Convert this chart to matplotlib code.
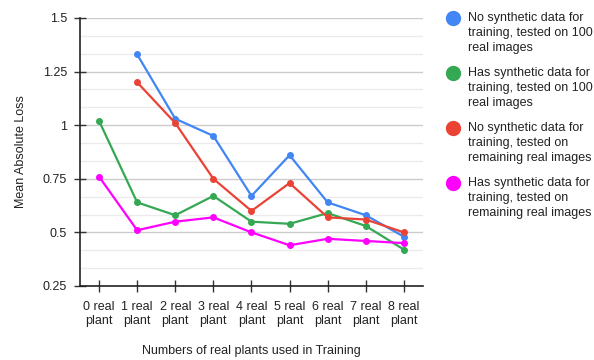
import numpy as np
import matplotlib.pyplot as plt
from matplotlib.lines import Line2D
from matplotlib.ticker import MultipleLocator

plt.rcParams['font.family'] = ['Liberation Sans', 'DejaVu Sans']

categories = ['0 real\nplant', '1 real\nplant', '2 real\nplant', '3 real\nplant', '4 real\nplant',
              '5 real\nplant', '6 real\nplant', '7 real\nplant', '8 real\nplant']

# None = no run for that number of plants
no_syn_100 = [None, 1.33, 1.03, 0.95, 0.67, 0.86, 0.64, 0.58, 0.48]
syn_100 = [1.02, 0.64, 0.58, 0.67, 0.55, 0.54, 0.59, 0.53, 0.42]
no_syn_rest = [None, 1.20, 1.01, 0.75, 0.60, 0.73, 0.57, 0.56, 0.50]
syn_rest = [0.76, 0.51, 0.55, 0.57, 0.50, 0.44, 0.47, 0.46, 0.45]

series = [
    (no_syn_100, '#4285F4', 'No synthetic data for\ntraining, tested on 100\nreal images'),
    (syn_100, '#34A853', 'Has synthetic data for\ntraining, tested on 100\nreal images'),
    (no_syn_rest, '#EA4335', 'No synthetic data for\ntraining, tested on\nremaining real images'),
    (syn_rest, '#FF00FF', 'Has synthetic data for\ntraining, tested on\nremaining real images'),
]

fs = 9
fig = plt.figure(figsize=(5.94, 3.6), dpi=100)
ax = fig.add_axes([0.1347, 0.2056, 0.5773, 0.7444])

x = np.arange(len(categories))
for vals, color, label in series:
    y = np.array([np.nan if v is None else v for v in vals])
    ax.plot(x, y, color=color, linewidth=1.6, marker='o', markersize=4, zorder=3)

ax.set_xlim(-0.5, len(categories) - 0.5)
ax.set_ylim(0.25, 1.5)
ax.set_xticks(x)
ax.set_xticklabels(categories, fontsize=fs, color='#222222', linespacing=1.25)
ax.yaxis.set_minor_locator(MultipleLocator(0.25 / 3))
ax.set_yticks([0.25, 0.5, 0.75, 1.0, 1.25, 1.5])
ax.set_yticklabels(['0.25', '0.5', '0.75', '1', '1.25', '1.5'], fontsize=fs, color='#222222')

ax.grid(True, axis='y', which='major', color='#cccccc', linewidth=1)
ax.grid(True, axis='y', which='minor', color='#ebebeb', linewidth=1)
ax.set_axisbelow(True)
ax.tick_params(axis='both', which='major', direction='inout', length=9, width=1, color='#333333', pad=6)
ax.tick_params(axis='y', which='major', pad=5)
ax.tick_params(axis='y', which='minor', length=0)
for side in ['top', 'right']:
    ax.spines[side].set_visible(False)
for side in ['left', 'bottom']:
    ax.spines[side].set_color('#222222')
    ax.spines[side].set_linewidth(1.2)

ax.set_xlabel('Numbers of real plants used in Training', fontsize=fs, color='#222222', labelpad=13)
ax.set_ylabel('Mean Absolute Loss', fontsize=fs, color='#222222', labelpad=11)

# legend drawn by hand to the right of the plot
top = 0.95
for i, (vals, color, label) in enumerate(series):
    yy = top - i * 0.153
    fig.add_artist(Line2D([0.763], [yy], marker='o', markersize=10, color=color,
                          transform=fig.transFigure))
    fig.text(0.788, yy + 0.016, label, fontsize=fs, color='#222222', va='top', ha='left',
             linespacing=1.32)

fig.savefig('out.png', dpi=100)
